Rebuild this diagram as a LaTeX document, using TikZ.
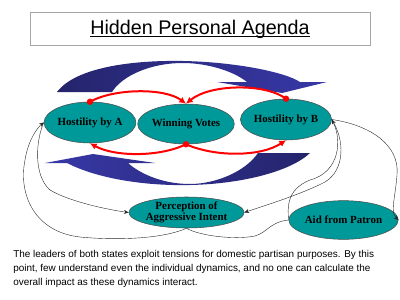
\documentclass[tikz,border=0pt]{standalone}
\usepackage{fontspec}
\setmainfont{Liberation Serif}
\setsansfont{Liberation Sans}
\usepackage{xcolor}
\usepackage{tikz}
\usetikzlibrary{
	arrows.meta,
	shapes.geometric
}

\definecolor{tealfill}{RGB}{0,153,153}
\definecolor{navydark}{RGB}{36,36,108}
\definecolor{navylight}{RGB}{56,56,168}

\begin{document}
\begin{tikzpicture}[x=0.75pt, y=-0.75pt,
	bubble/.style={ellipse, draw=gray!60!black, line width=0.4pt, fill=tealfill,
		inner sep=0pt, align=center, font=\fontsize{8.2}{8.6}\selectfont\bfseries},
	vote/.style={red, line width=1.5pt, -{Latex[length=5pt,width=5pt]}},
	link/.style={black!85, line width=0.3pt, -{Stealth[length=3.5pt,width=3pt]}}]
	\useasboundingbox (0,0) rectangle (400,300);
	
	% 标题
	\draw[gray!70, line width=0.6pt] (30,12) rectangle (370,45);
	\node[inner sep=0pt, font=\sffamily\fontsize{14.8}{16}\selectfont] (title) at (200,29) {Hidden Personal Agenda};
	\draw[line width=0.7pt] ([yshift=-1.8pt]title.base west) -- ([yshift=-1.8pt]title.base east);
	
	% 蓝色弯箭头
	\path[left color=navydark, right color=navylight]
	(57,92) .. controls (75,68) and (130,60) .. (183,61)
	.. controls (235,62) and (285,72) .. (300,82) -- (327,82) -- (282,93) -- (217,82) -- (247,82)
	.. controls (232,70) and (205,63) .. (183,63)
	.. controls (150,63) and (122,76) .. (112,92) -- cycle;
	\path[left color=navylight, right color=navydark]
	(67,163) .. controls (100,180) and (150,186) .. (190,185)
	.. controls (240,184) and (290,172) .. (310,153) -- (258,153)
	.. controls (245,172) and (215,184) .. (190,184)
	.. controls (160,184) and (138,172) .. (128,163) -- (155,163) -- (93,154) -- (45,163) -- cycle;
	
	% 节点
	\node[bubble, minimum width=64.5pt, minimum height=30.75pt] (hostA) at (90,122.5) {Hostility by A};
	\node[bubble, minimum width=64.5pt, minimum height=30pt] (votes) at (186,124) {Winning Votes};
	\node[bubble, minimum width=64.5pt, minimum height=30.75pt] (hostB) at (286,119.5) {Hostility by B};
	\node[bubble, minimum width=75.75pt, minimum height=23.25pt] (percep) at (186.5,212.5) {Perception of\\Aggressive Intent};
	\node[bubble, minimum width=65.25pt, minimum height=29pt] (aid) at (343.5,220) {Aid from Patron};
	
	% 红色箭头
	\draw[vote] (hostA.north) .. controls (115,88) and (165,88) .. (votes.north);
	\draw[vote] (hostB.north) .. controls (265,83) and (210,84) .. (votes.north);
	\draw[vote] (votes.south) .. controls (160,157) and (115,157) .. (hostA.south);
	\draw[vote] (votes.south) .. controls (215,157) and (260,157) .. (hostB.south);
	\fill[red] (hostA.north) circle (2.4pt);
	\fill[red] (hostB.north) circle (2.4pt);
	\fill[red] (votes.south) circle (2.4pt);
	
	% 细连线
	\draw[link] (hostA.west) .. controls (36,140) and (33,175) .. (50,190)
	.. controls (70,202) and (110,210) .. (percep.west);
	\draw[link] (percep.south) .. controls (160,240) and (110,240) .. (80,237)
	.. controls (35,232) and (18,195) .. (25,160)
	.. controls (28,140) and (38,127) .. (hostA.west);
	\draw[black!85, line width=0.3pt] (percep.south) .. controls (200,236) and (235,240) .. (255,236)
	.. controls (268,232) and (270,222) .. (aid.west);
	\draw[link] (hostB.east) .. controls (370,125) and (400,145) .. (397,175)
	.. controls (395,200) and (390,212) .. (aid.east);
	\draw[link] (aid.west) .. controls (288,210) and (285,190) .. (310,180)
	.. controls (340,172) and (342,140) .. (hostB.east);
	\draw[link] (hostB.east) .. controls (345,140) and (345,170) .. (325,182)
	.. controls (300,195) and (260,207) .. (percep.east);
	
	% 说明文字
	\node[anchor=north west, inner sep=0pt, align=left, font=\sffamily\fontsize{7.45}{10.2}\selectfont] (note) at (13,250.5)
	{The leaders of both states exploit tensions for domestic partisan purposes. By this\\
	point, few understand even the individual dynamics, and no one can calculate the\\
	overall impact as these dynamics interact.};
\end{tikzpicture}
\end{document}
